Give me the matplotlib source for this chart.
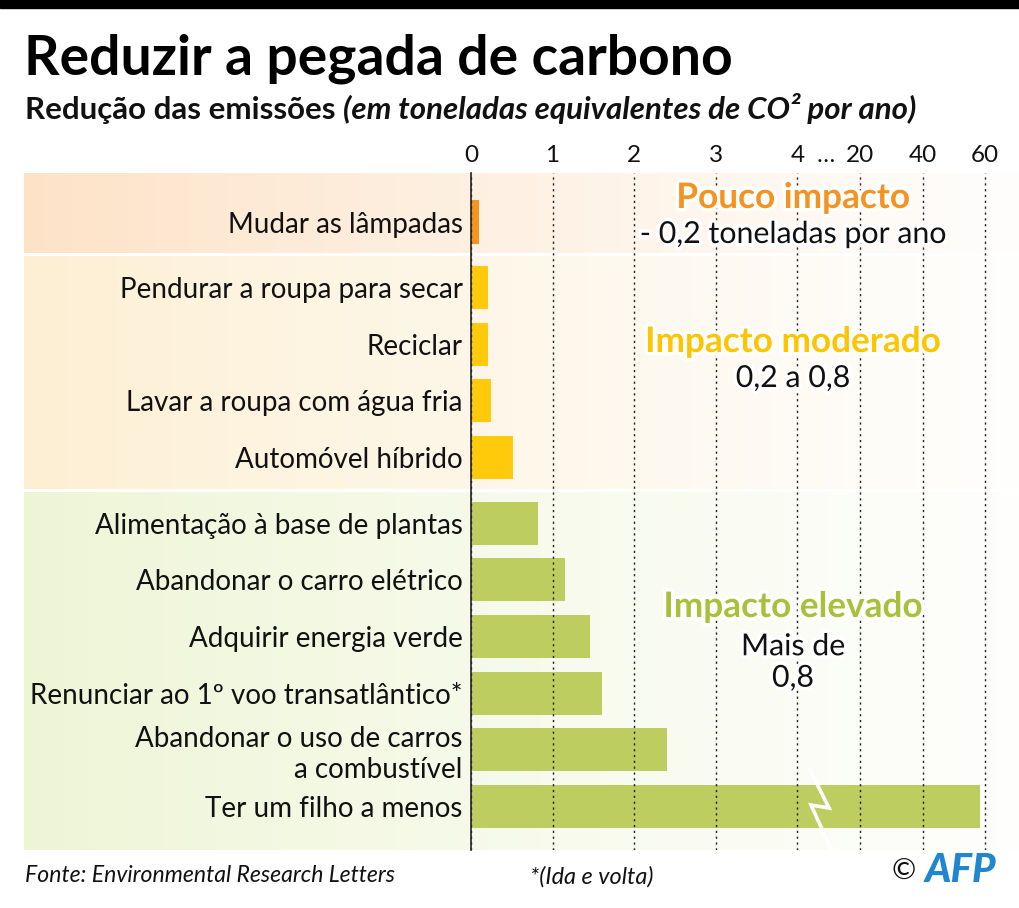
import numpy as np
import matplotlib
matplotlib.use("Agg")
import matplotlib.pyplot as plt
import matplotlib.patheffects as pe
from matplotlib.transforms import blended_transform_factory
from matplotlib.lines import Line2D
from matplotlib.patches import Rectangle

# ---------------- data ----------------
categories = [
    "Mudar as lâmpadas",
    "Pendurar a roupa para secar",
    "Reciclar",
    "Lavar a roupa com água fria",
    "Automóvel híbrido",
    "Alimentação à base de plantas",
    "Abandonar o carro elétrico",
    "Adquirir energia verde",
    "Renunciar ao 1º voo transatlântico*",
    "Abandonar o uso de carros\na combustível",
    "Ter um filho a menos",
]
values = [0.1, 0.21, 0.21, 0.25, 0.52, 0.82, 1.15, 1.46, 1.6, 2.4, 58.6]
groups = [0, 1, 1, 1, 1, 2, 2, 2, 2, 2, 2]   # 0 pouco, 1 moderado, 2 elevado
tick_values = [0, 1, 2, 3, 4, 20, 40, 60]
tick_labels = ["0", "1", "2", "3", "4", "20", "40", "60"]
group_titles = ["Pouco impacto", "Impacto moderado", "Impacto elevado"]
group_notes = ["- 0,2 toneladas por ano", "0,2 a 0,8", "Mais de\n0,8"]

# ---------------- style ----------------
FONT = "Lato"
plt.rcParams["font.family"] = [FONT, "DejaVu Sans"]
bar_colors = ["#f7941d", "#ffc90c", "#bdcd60"]
title_colors = ["#f39322", "#fcc500", "#a9c13a"]
band_colors = ["#fde2c6", "#fdefd3", "#eef5d5"]

W, H = 1020, 908
fig = plt.figure(figsize=(W / 100, H / 100), dpi=100)
fig.patch.set_facecolor("white")

# broken (piecewise linear) x scale
BV = np.array([0.0, 4.0, 20.0, 40.0, 60.0])
BP = np.array([0.0, 4.0, 4.772, 5.534, 6.294])


def _pw(v, xs, ys):
    v = np.asarray(v, dtype=float)
    out = np.interp(v, xs, ys)
    out = np.where(v < xs[0], ys[0] + (v - xs[0]) * (ys[1] - ys[0]) / (xs[1] - xs[0]), out)
    out = np.where(v > xs[-1], ys[-1] + (v - xs[-1]) * (ys[-1] - ys[-2]) / (xs[-1] - xs[-2]), out)
    return out


def fwd(v):
    return _pw(v, BV, BP)


def inv(p):
    return _pw(p, BP, BV)


# layout in pixels
ax_left, ax_right, ax_top, ax_bot = 471, 1005, 173, 850
unit_px = 81.6
group_gap = 0.155
ypos = np.array([i + g * group_gap for i, g in enumerate(groups)])
y_unit = 56.7
y0_px = 222
y_top = (ax_top - y0_px) / y_unit
y_bot = (ax_bot - y0_px) / y_unit


def ypx(p):
    return (p - y0_px) / y_unit


def xfrac(p):
    return (p - ax_left) / (ax_right - ax_left)


ax = fig.add_axes([ax_left / W, 1 - ax_bot / H, (ax_right - ax_left) / W, (ax_bot - ax_top) / H])
ax.set_zorder(2)
ax.patch.set_alpha(0)
ax.set_xscale("function", functions=(fwd, inv))
ax.set_xlim(0, float(inv((ax_right - ax_left) / unit_px)))
ax.set_ylim(y_bot, y_top)

# background bands
bg = fig.add_axes([24 / W, 1 - ax_bot / H, (W - 24) / W, (ax_bot - ax_top) / H])
bg.set_zorder(1)
bg.axis("off")
bounds = []
for g in range(3):
    ys = ypos[np.array(groups) == g]
    bounds.append((ys.min(), ys.max()))
edges = [y_top]
for g in range(2):
    edges.append((bounds[g][1] + bounds[g + 1][0]) / 2)
edges.append(y_bot)
gap = 0.03
t = np.linspace(0, 1, 256)
for g in range(3):
    c = np.array(matplotlib.colors.to_rgb(band_colors[g]))
    frac = np.clip(t * 0.95, 0, 1) ** 0.85
    grad = c[None, :] * (1 - frac[:, None]) + np.ones(3)[None, :] * frac[:, None]
    grad = grad[None, :, :]
    top = edges[g] + (gap if g > 0 else 0)
    bot = edges[g + 1] - (gap if g < 2 else 0)
    bg.imshow(grad, extent=(0, 1, bot, top), aspect="auto", interpolation="bilinear", zorder=0)
bg.set_xlim(0, 1)
bg.set_ylim(y_bot, y_top)

# bars
ax.barh(ypos, values, height=0.76, color=[bar_colors[g] for g in groups], zorder=1)

# grid & axes
ax.set_xticks(tick_values)
ax.set_xticklabels(tick_labels)
ax.xaxis.tick_top()
ax.tick_params(axis="x", length=0, pad=5, labelsize=17.5, labelcolor="#111111")
ax.grid(axis="x", color="#222222", linestyle=(0, (1.6, 2.6)), linewidth=1.0, zorder=2.5)
ax.set_axisbelow(False)
ax.set_yticks(ypos)
ax.set_yticklabels(categories)
ax.tick_params(axis="y", length=0, pad=6, labelsize=20, labelcolor="#111111")
for lab in ax.get_yticklabels():
    lab.set_linespacing(1.2)
for sp in ["top", "right", "bottom"]:
    ax.spines[sp].set_visible(False)
ax.spines["left"].set_color("#222222")
ax.spines["left"].set_linewidth(1.2)
ax.spines["left"].set_zorder(4)

# break marks
axx = blended_transform_factory(ax.transAxes, ax.transData)
ax.annotate("…", xy=(xfrac(826), 1.0), xycoords=("axes fraction", "axes fraction"),
            xytext=(0, 5), textcoords="offset points", ha="center", va="bottom",
            fontsize=17.5, color="#111111", annotation_clip=False)
bx = [xfrac(810), xfrac(829), xfrac(811), xfrac(832)]
by = [ypx(770), ypx(808), ypx(805), ypx(851)]
ax.add_line(Line2D(bx, by, transform=axx, color="white", lw=2.6, zorder=5, clip_on=False,
                   solid_joinstyle="miter"))

# group annotations
stroke = [pe.withStroke(linewidth=5, foreground="white")]
cx = xfrac(793)
ann_y = [(ypx(198), ypx(234)), (ypx(342), ypx(378)), (ypx(607), ypx(662))]
for g in range(3):
    ax.text(cx, ann_y[g][0], group_titles[g], transform=axx, ha="center", va="center",
            fontsize=25.3, fontweight="bold", color=title_colors[g], path_effects=stroke, zorder=6)
    ax.text(cx, ann_y[g][1], group_notes[g], transform=axx, ha="center", va="center",
            fontsize=21.8, color="#111111", path_effects=stroke, zorder=6, linespacing=1.15)

# top black bar
fig.patches.append(Rectangle((0, 1 - 8 / H), 1, 8 / H, transform=fig.transFigure,
                             color="black", zorder=10))

# titles
fig.text(24 / W, 1 - 75 / H, "Reduzir a pegada de carbono", fontsize=39.8, fontweight="bold",
         color="black", ha="left", va="baseline")
s1 = fig.text(25 / W, 1 - 119 / H, "Redução das emissões ", fontsize=22.5, fontweight="bold",
              color="#111111", ha="left", va="baseline")
fig.canvas.draw()
bb = s1.get_window_extent()
fig.text(bb.x1 / W, 1 - 119 / H, "(em toneladas equivalentes de CO² por ano)", fontsize=22.5,
         fontweight="bold", fontstyle="italic", color="#111111", ha="left", va="baseline")

# footer
fig.text(25 / W, 1 - 882 / H, "Fonte: Environmental Research Letters", fontsize=16.6,
         fontstyle="italic", color="#111111", ha="left", va="baseline")
fig.text(530 / W, 1 - 884 / H, "*(Ida e volta)", fontsize=16.9, fontstyle="italic",
         color="#111111", ha="left", va="baseline")
fig.text(904 / W, 1 - 872 / H, "©", fontsize=21, color="#111111", ha="center", va="center")
fig.text(961 / W, 1 - 871 / H, "AFP", fontsize=29, fontweight="black", fontstyle="italic",
         color="#1f86cf", ha="center", va="center")

fig.savefig("out.png", dpi=100, facecolor="white")
